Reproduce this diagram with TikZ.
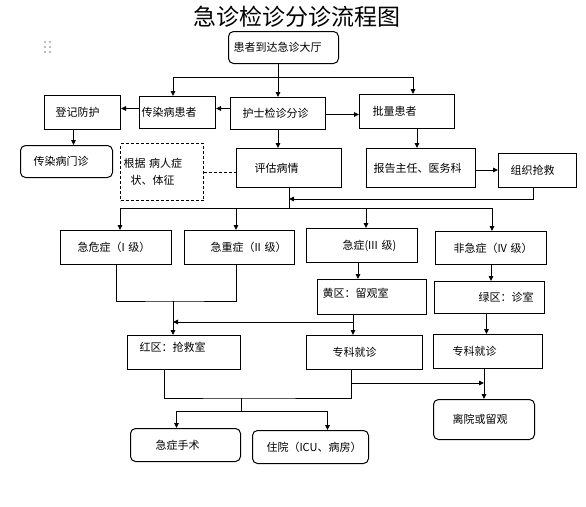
\documentclass[tikz,border=0pt]{standalone}
\usepackage{fontspec}
\setmainfont{Noto Sans CJK SC}
\usetikzlibrary{arrows.meta}
\tikzset{
  box/.style={draw, line width=1pt, anchor=north west, inner xsep=0pt,
              inner ysep=0pt, align=left, font=\fontsize{11}{17}\selectfont},
  rbox/.style={box, rounded corners=5pt},
  dbox/.style={box, dash pattern=on 3pt off 2pt},
  arr/.style={-{Triangle[length=5pt, width=4.5pt]}},
}

\begin{document}
\begin{tikzpicture}[x=1pt, y=-1pt, line width=0.9pt]
\useasboundingbox (0,0) rectangle (586,506);

% ============================================================
% Title and grip
% ============================================================
\node[font=\fontsize{23}{26}\selectfont] (title) at (297,17) {急诊检诊分诊流程图};
\foreach \gx in {45,50}
  \foreach \gy in {42,47,52}
    \fill[gray!70] (\gx,\gy) circle[radius=1.2pt];

% ============================================================
% Boxes (top-left corner, size, text offset)
% ============================================================
\node[rbox, text width=110pt, minimum height=32pt] (arrive) at (228,31) {\hspace*{5pt}患者到达急诊大厅};

\node[box, text width=76pt, minimum height=34pt] (reg)    at (44,95)  {\hspace*{11pt}登记防护};
\node[box, text width=76pt, minimum height=32pt] (infect) at (139,96) {\hspace*{2pt}传染病患者};
\node[box, text width=95pt, minimum height=32pt] (nurse)  at (230,97) {\hspace*{12pt}护士检诊分诊};
\node[box, text width=95pt, minimum height=34pt] (batch)  at (359,94) {\hspace*{13pt}批量患者};

\node[rbox, text width=92pt, minimum height=32pt] (clinic) at (20,145) {\hspace*{13pt}传染病门诊};
\node[dbox, text width=83pt, minimum height=57pt] (basis)  at (120,143)
  {\hspace*{3pt}根据 病人症\\\hspace*{10pt}状、体征};
\node[box, text width=105pt, minimum height=39pt] (assess) at (236,148) {\hspace*{18pt}评估病情};
\node[box, text width=109pt, minimum height=39pt] (report) at (366,148) {\hspace*{7pt}\raisebox{-5pt}{报告主任、医务科}};
\node[box, text width=78pt, minimum height=34pt]  (rescue) at (498,153) {\hspace*{12pt}组织抢救};

\node[box, text width=111pt, minimum height=34pt] (lv1) at (60,230)  {\hspace*{17pt}急危症（I 级）};
\node[box, text width=110pt, minimum height=34pt] (lv2) at (184,230) {\hspace*{26pt}急重症（II 级）};
\node[box, text width=111pt, minimum height=34pt] (lv3) at (306,228) {\hspace*{36pt}\raisebox{-6pt}{急症(III 级)}};
\node[box, text width=111pt, minimum height=33pt] (lv4) at (435,231) {\hspace*{18pt}非急症（IV 级）};

\node[box, text width=109pt, minimum height=35pt] (yellow) at (317,279) {\hspace*{5pt}\raisebox{9pt}{黄区：留观室}};
\node[box, text width=110pt, minimum height=32pt] (green)  at (434,281) {\hspace*{44pt}绿区：诊室};

\node[box, text width=113pt, minimum height=34pt] (red)   at (127,335) {\hspace*{12pt}\raisebox{12pt}{红区：抢救室}};
\node[box, text width=116pt, minimum height=34pt] (spec1) at (306,335) {\hspace*{26pt}专科就诊};
\node[box, text width=109pt, minimum height=34pt] (spec2) at (433,334) {\hspace*{19pt}专科就诊};

\node[rbox, text width=101pt, minimum height=40pt] (leave)   at (433,399) {\hspace*{19pt}离院或留观};
\node[rbox, text width=110pt, minimum height=33pt] (surgery) at (130,428) {\hspace*{25pt}急症手术};
\node[rbox, text width=116pt, minimum height=33pt] (admit)   at (252,430) {\hspace*{14pt}住院（ICU、病房）};

% ============================================================
% Arrival fan-out
% ============================================================
\coordinate (t0) at (278,77);
\coordinate (tl) at (173,77);
\coordinate (tr) at (413,77);
\draw (arrive.south -| t0) -- (t0);
\draw (tl) -- (tr);
\draw[arr] (tl) -- (tl |- infect.north);
\draw[arr] (t0) -- (t0 |- nurse.north);
\draw[arr] (tr) -- (tr |- batch.north);

% Triage row
\draw[arr] ([yshift=5pt]nurse.west) -- ([yshift=5pt]nurse.west -| infect.east);
\draw[arr] ([yshift=4pt]infect.west) -- ([yshift=4pt]infect.west -| reg.east);
\draw[arr] ([yshift=-1pt]nurse.east) -- ([yshift=-1pt]nurse.east -| batch.west);

\draw[arr] ([xshift=-9pt]reg.south) -- ([xshift=-9pt]reg.south |- clinic.north);
\draw[arr] (nurse.south) -- (nurse.south |- assess.north);
\draw[arr] ([xshift=10pt]batch.south) -- ([xshift=10pt]batch.south |- report.north);
\draw[dash pattern=on 3pt off 2pt] (basis.east) -- (basis.east -| assess.west);
\draw[arr] ([yshift=-2pt]report.east) -- ([yshift=-2pt]report.east -| rescue.west);
\draw[arr] ([xshift=-4pt]rescue.south) |- ([yshift=-11pt]assess.south);

% ============================================================
% Severity levels
% ============================================================
\coordinate (gl) at (120,208);
\coordinate (gr) at (492,208);
\draw (assess.south) -- (assess.south |- gl);
\draw (gl) -- (gr);
\foreach \x/\lv in {120/lv1, 236/lv2, 366/lv3, 492/lv4}
  \draw[arr] (\x,208) -- (\x,208 |- \lv.north);

\coordinate (m1) at (173,301);
\draw (lv1.south) |- (m1) -| ([xshift=-3pt]lv2.south);
\draw[arr] (m1) -- (m1 |- red.north);
\draw[arr] ([xshift=-4pt]lv3.south) -- ([xshift=-4pt]lv3.south |- yellow.north);
\draw[arr] (lv4.south) -- (lv4.south |- green.north);

\coordinate (ys) at (353,322);
\draw[arr] (yellow.south -| ys) -- (ys |- spec1.north);
\draw[arr] (ys) -- (ys -| m1);
\draw[arr] ([xshift=-3pt]green.south) -- ([xshift=-3pt]green.south |- spec2.north);

% ============================================================
% Outcomes
% ============================================================
\coordinate (m2) at (241,398);
\coordinate (m3) at (241,411);
\draw ([xshift=-20pt]red.south) |- (m2) -| ([xshift=-13pt]spec1.south);
\draw (m2) -- (m3);
\draw[arr] (m3) -| ([xshift=-9pt]surgery.north);
\draw[arr] (m3) -| ([xshift=17pt]admit.north);

\coordinate (sr) at (351,383);
\draw[arr] (sr) -- (sr -| leave.north);
\draw[arr] (spec2.south -| leave.north) -- (leave.north);

\end{tikzpicture}
\end{document}
